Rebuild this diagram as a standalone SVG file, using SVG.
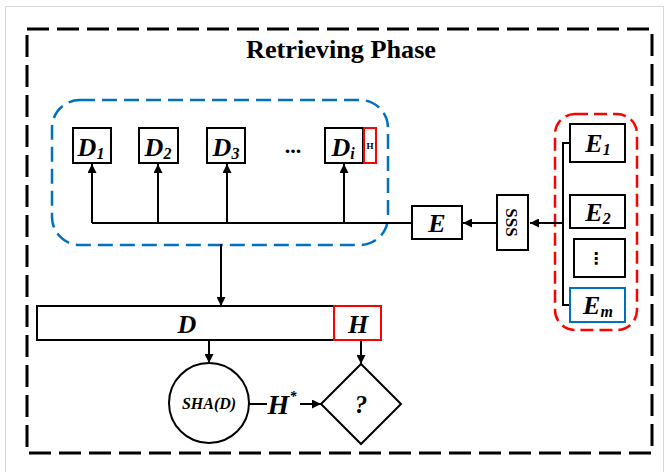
<svg xmlns="http://www.w3.org/2000/svg" width="665" height="472" viewBox="0 0 665 472">
<defs>
<marker id="ah" viewBox="0 0 10 10" refX="10" refY="5" markerWidth="9" markerHeight="9" markerUnits="userSpaceOnUse" orient="auto">
<path d="M0,0 L10,5 L0,10 z" fill="#000"/>
</marker>
<style>
.box{fill:#fff;stroke:#000;stroke-width:2}
.red{fill:#fff;stroke:#ff0000;stroke-width:2}
.blue{fill:#fff;stroke:#0070c0;stroke-width:2}
.ln{fill:none;stroke:#000;stroke-width:2}
.arr{fill:none;stroke:#000;stroke-width:2;marker-end:url(#ah)}
.t{font-family:"Liberation Serif","Times New Roman",serif;font-weight:bold;font-style:italic;fill:#000;text-anchor:middle}
.tn{font-family:"Liberation Serif","Times New Roman",serif;font-weight:bold;fill:#000;text-anchor:middle}
</style>
</defs>
<rect x="0" y="0" width="665" height="472" fill="#fff"/>
<rect x="5.5" y="6.5" width="658" height="470" fill="none" stroke="#d8d8d8" stroke-width="1"/>
<g id="outer">
<rect x="27" y="29" width="625" height="424" fill="none" stroke="#000" stroke-width="3" stroke-dasharray="22 8"/>
<text class="tn" x="341" y="58" font-size="25" textLength="190" lengthAdjust="spacingAndGlyphs">Retrieving Phase</text>
</g>
<g id="groupD">
<rect x="52" y="100" width="336" height="145" rx="28" fill="none" stroke="#0070c0" stroke-width="2.5" stroke-dasharray="15 7"/>
</g>
<g id="groupE">
<rect x="555" y="114" width="82" height="216" rx="20" fill="none" stroke="#ff0000" stroke-width="2.5" stroke-dasharray="13 6"/>
</g>
<g id="connectors">
<polyline class="ln" points="412,223 92,223"/>
<line class="arr" x1="92" y1="223" x2="92" y2="164"/>
<line class="arr" x1="158" y1="223" x2="158" y2="164"/>
<line class="arr" x1="227" y1="223" x2="227" y2="164"/>
<line class="arr" x1="344" y1="223" x2="344" y2="164"/>
<polyline class="ln" points="570,143 563,143 563,305 570,305"/>
<line class="arr" x1="563" y1="223" x2="530" y2="223"/>
<line class="arr" x1="497" y1="223" x2="463" y2="223"/>
<line class="arr" x1="221" y1="244" x2="221" y2="306"/>
<line class="arr" x1="209" y1="340" x2="209" y2="363"/>
<line class="arr" x1="361" y1="340" x2="361" y2="364"/>
<line class="ln" x1="249" y1="404" x2="267" y2="404"/>
<line class="arr" x1="300" y1="404" x2="321" y2="404"/>
</g>
<g id="D1"><rect class="box" x="73" y="128" width="38" height="35"/><text class="t" x="91" y="156" font-size="26">D<tspan font-size="16" dy="3">1</tspan></text></g>
<g id="D2"><rect class="box" x="139" y="128" width="39" height="35"/><text class="t" x="158" y="156" font-size="26">D<tspan font-size="16" dy="3">2</tspan></text></g>
<g id="D3"><rect class="box" x="207" y="128" width="38" height="35"/><text class="t" x="226" y="156" font-size="26">D<tspan font-size="16" dy="3">3</tspan></text></g>
<g id="dots"><text class="tn" x="293" y="153" font-size="22">...</text></g>
<g id="Di"><rect class="box" x="325" y="128" width="38" height="35"/><text class="t" x="343" y="156" font-size="26">D<tspan font-size="16" dy="3">i</tspan></text></g>
<g id="Hi"><rect class="red" x="364" y="128" width="12" height="35"/><text class="tn" x="370" y="149" font-size="9">H</text></g>
<g id="E"><rect class="box" x="412" y="206" width="50" height="33"/><text class="t" x="437" y="232" font-size="26">E</text></g>
<g id="SSS"><rect class="box" x="497" y="195" width="31" height="55"/><text class="tn" font-size="17" transform="translate(506,222.5) rotate(90)" y="0">SSS</text></g>
<g id="E1"><rect class="box" x="570" y="124" width="55" height="38"/><text class="t" x="598" y="152" font-size="26">E<tspan font-size="16" dy="3">1</tspan></text></g>
<g id="E2"><rect class="box" x="570" y="195" width="55" height="33"/><text class="t" x="598" y="221" font-size="26">E<tspan font-size="16" dy="3">2</tspan></text></g>
<g id="Edots"><rect class="box" x="574" y="239" width="51" height="38"/><text x="596" y="264" font-size="16" font-weight="bold" font-family="DejaVu Sans,sans-serif" text-anchor="middle">⋮</text></g>
<g id="Em"><rect class="blue" x="570" y="288" width="55" height="34"/><text class="t" x="598" y="314" font-size="26">E<tspan font-size="16" dy="3">m</tspan></text></g>
<g id="Dbar"><rect class="box" x="37" y="306" width="297" height="34"/><text class="t" x="187" y="333" font-size="26">D</text></g>
<g id="Hbar"><rect class="red" x="334" y="306" width="47" height="34"/><text class="t" x="358" y="333" font-size="26">H</text></g>
<g id="SHA"><circle cx="209" cy="403" r="40" fill="#fff" stroke="#000" stroke-width="2"/><text class="t" x="209" y="409" font-size="16">SHA(D)</text></g>
<g id="Hstar"><text class="t" x="282" y="414" font-size="28">H<tspan font-size="14" dy="-13">*</tspan></text></g>
<g id="check"><polygon points="361,364 401,404 361,444 321,404" fill="#fff" stroke="#000" stroke-width="2"/><text class="t" x="361" y="413" font-size="25">?</text></g>
</svg>
